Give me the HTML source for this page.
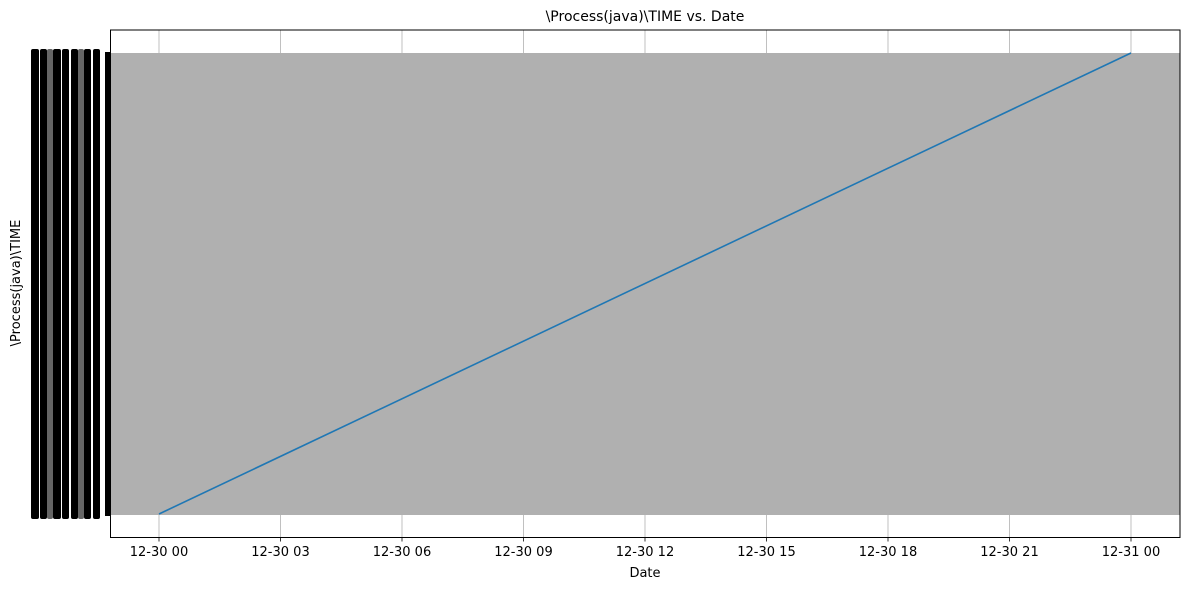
<!DOCTYPE html>
<html><head><meta charset="utf-8"><style>
body{margin:0;background:#fff;font-family:"Liberation Sans","DejaVu Sans",sans-serif}
svg text{font-family:"DejaVu Sans","Liberation Sans",sans-serif}
</style></head><body>
<svg id="c" width="1190" height="590" xmlns="http://www.w3.org/2000/svg">
<text x="645" y="21" font-size="14" text-anchor="middle">\Process(java)\TIME vs. Date</text>
<text x="645" y="577" font-size="13" text-anchor="middle">Date</text>
<text x="20" y="283" font-size="13" text-anchor="middle" transform="rotate(-90 20 283)">\Process(java)\TIME</text>
<g id="g"></g>
</svg>
<script>
const xTickLabels = ["12-30 00","12-30 03","12-30 06","12-30 09","12-30 12","12-30 15","12-30 18","12-30 21","12-31 00"];
const xTickHours = [0,3,6,9,12,15,18,21,24];
const seriesHours = [0,24];
const seriesCatIndex = [0,1];
const categories = ["first","last"];
const ns="http://www.w3.org/2000/svg";
const g=document.getElementById('g');
function mk(t,a){const e=document.createElementNS(ns,t);for(const k in a)e.setAttribute(k,a[k]);g.appendChild(e);return e;}
const L=110.5,R=1180,T=30,B=537.5,y0=514,y1=53;
const xs=h=>159+(1131-159)*h/24;
const ys=i=>y0+(y1-y0)*i/(categories.length-1);
let e=mk('rect',{x:L,y:53,width:R-L,height:462,fill:'#b0b0b0'});


xTickHours.forEach((h,i)=>{
 const x=xs(h);
 let l=mk('line',{x1:x,x2:x,y1:T,y2:B,stroke:'#b0b0b0','stroke-width':0.8});
 
 
 let tk=mk('line',{x1:x,x2:x,y1:B,y2:B+4,stroke:'#000','stroke-width':0.8});
 
 
 let t=mk('text',{x:x,y:556,'font-size':13,'text-anchor':'middle'});
 t.textContent=xTickLabels[i];
 
 
});
[[31,8],[40,7],[47,6,0.6],[53,8],[62,7],[71,7],[78,6,0.6],[84,7],[93,7]].forEach(s=>{
 let r=mk('rect',{x:s[0],y:49,width:s[1],height:470,rx:2,fill:'#000',opacity:s[2]||1});
 
 
});
let tb=mk('rect',{x:105,y:52,width:5.5,height:464,fill:'#000'});


let p=mk('polyline',{points:seriesHours.map((h,i)=>xs(h)+','+ys(seriesCatIndex[i])).join(' '),fill:'none',stroke:'#1f77b4','stroke-width':1.6});


let f=mk('rect',{x:L,y:T,width:R-L,height:B-T,fill:'none',stroke:'#000','stroke-width':1});


</script>
</body></html>
